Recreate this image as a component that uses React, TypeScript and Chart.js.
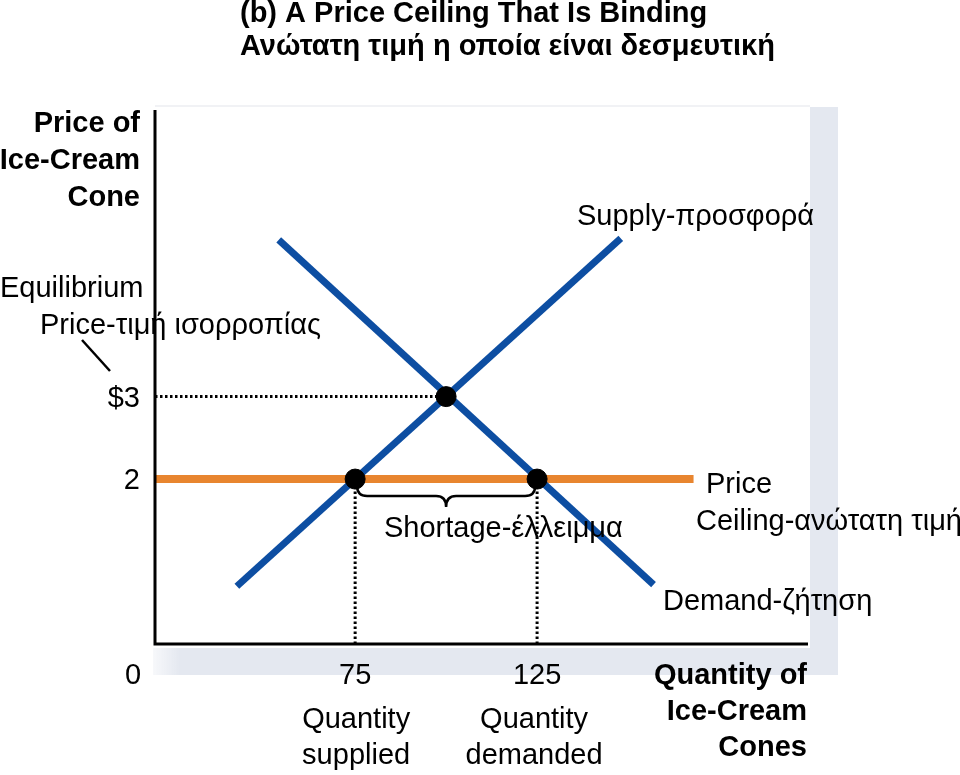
import React, { useEffect, useRef } from "react";
import { Chart, registerables } from "chart.js";

Chart.register(...registerables);

// ---- data ----
const supplyPoints = [
  { x: 42.5, y: 0.7 },
  { x: 148, y: 4.92 },
];
const demandPoints = [
  { x: 54, y: 4.9 },
  { x: 157, y: 0.72 },
];
const ceilingPrice = 2;
const ceilingRange = [20, 168];
const equilibrium = { x: 100, y: 3 };
const quantitySupplied = 75;
const quantityDemanded = 125;
const yTickValues = [3, 2];
const yTickLabels = ["$3", "2"];
const xTickValues = [75, 125];
const xTickLabels = ["75", "125"];
const xMin = 20;
const xMax = 200;
const yMin = 0;
const yMax = 6.5;

const titleLines = ["(b) A Price Ceiling That Is Binding", "Ανώτατη τιμή η οποία είναι δεσμευτική"];
const yAxisTitle = ["Price of", "Ice-Cream", "Cone"];
const xAxisTitle = ["Quantity of", "Ice-Cream", "Cones"];

const BLUE = "#0d4ea2";
const ORANGE = "#e8852f";
const FONT = '"Liberation Sans", Arial, sans-serif';

const overlayPlugin = {
  id: "overlay",
  beforeDraw(chart: any) {
    const { ctx, chartArea: a } = chart;
    ctx.save();
    // shadow box
    ctx.fillStyle = "#e4e8f0";
    ctx.fillRect(a.right, a.top - 1, 28, a.bottom - a.top + 32);
    const g = ctx.createLinearGradient(a.left - 2, 0, a.left + 25, 0);
    g.addColorStop(0, "rgba(228,232,240,0.3)");
    g.addColorStop(1, "rgba(228,232,240,1)");
    ctx.fillStyle = g;
    ctx.fillRect(a.left - 2, a.bottom + 4, a.right - a.left + 2, 27);
    ctx.fillStyle = "#f1f2f5";
    ctx.fillRect(a.left, a.top - 3, a.right - a.left, 2);
    ctx.restore();
  },
  afterDatasetsDraw(chart: any) {
    const { ctx, chartArea: a, scales } = chart;
    const xs = scales.x;
    const ys = scales.y;
    ctx.save();
    // axes
    ctx.strokeStyle = "#000";
    ctx.lineWidth = 3;
    ctx.beginPath();
    ctx.moveTo(a.left, a.top + 2);
    ctx.lineTo(a.left, a.bottom);
    ctx.lineTo(a.right - 2, a.bottom);
    ctx.stroke();

    // brace under shortage
    const bx1 = xs.getPixelForValue(quantitySupplied) + 2;
    const bx2 = xs.getPixelForValue(quantityDemanded) - 2;
    const bm = (bx1 + bx2) / 2;
    const by0 = ys.getPixelForValue(ceilingPrice) + 7;
    const by1 = by0 + 10;
    const by2 = by1 + 11;
    ctx.lineWidth = 2.5;
    ctx.beginPath();
    ctx.moveTo(bx1, by0);
    ctx.quadraticCurveTo(bx1, by1, bx1 + 10, by1);
    ctx.lineTo(bm - 10, by1);
    ctx.quadraticCurveTo(bm, by1, bm, by2);
    ctx.quadraticCurveTo(bm, by1, bm + 10, by1);
    ctx.lineTo(bx2 - 10, by1);
    ctx.quadraticCurveTo(bx2, by1, bx2, by0);
    ctx.stroke();

    // leader line for equilibrium price
    ctx.beginPath();
    ctx.moveTo(82, 340);
    ctx.lineTo(110, 371);
    ctx.stroke();

    ctx.fillStyle = "#000";
    ctx.textBaseline = "middle";
    // title
    ctx.font = `bold 29px ${FONT}`;
    ctx.textAlign = "left";
    ctx.fillText(titleLines[0], 240, 14);
    ctx.fillText(titleLines[1], 240, 47);
    // y axis title
    ctx.textAlign = "right";
    yAxisTitle.forEach((t, i) => ctx.fillText(t, 140, 124 + i * 37));
    // x axis title
    xAxisTitle.forEach((t, i) => ctx.fillText(t, 807, 676 + i * 36));

    ctx.font = `29px ${FONT}`;
    // y ticks
    ctx.textAlign = "right";
    yTickValues.forEach((v, i) => ctx.fillText(yTickLabels[i], 140, ys.getPixelForValue(v) + 2));
    // x ticks
    ctx.textAlign = "center";
    ctx.fillText("0", 133, 676);
    xTickValues.forEach((v, i) => ctx.fillText(xTickLabels[i], xs.getPixelForValue(v), 676));
    ctx.fillText("Quantity", xs.getPixelForValue(quantitySupplied) + 1, 720);
    ctx.fillText("supplied", xs.getPixelForValue(quantitySupplied) + 1, 756);
    ctx.fillText("Quantity", xs.getPixelForValue(quantityDemanded) - 3, 720);
    ctx.fillText("demanded", xs.getPixelForValue(quantityDemanded) - 3, 756);

    // annotations
    ctx.textAlign = "left";
    ctx.fillText("Equilibrium", 0, 289);
    ctx.fillText("Price-τιμή ισορροπίας", 40, 326);
    ctx.fillText("Supply-προσφορά", 577, 217);
    ctx.fillText("Price", 706, 485);
    ctx.fillText("Ceiling-ανώτατη τιμή", 696, 522);
    ctx.fillText("Demand-ζήτηση", 663, 602);
    ctx.fillText("Shortage-έλλειμμα", 384, 529);
    ctx.restore();
  },
};

export default function App() {
  const ref = useRef<HTMLCanvasElement | null>(null);
  useEffect(() => {
    document.body.style.margin = "0";
    const canvas = ref.current;
    if (!canvas) return;
    const dotted = {
      borderColor: "#000",
      borderWidth: 3,
      borderDash: [2.5, 2.5],
      pointRadius: 0,
      showLine: true,
      fill: false,
    };
    const chart = new Chart(canvas, {
      type: "scatter",
      data: {
        datasets: [
          {
            data: [
              { x: quantitySupplied, y: ceilingPrice },
              { x: quantityDemanded, y: ceilingPrice },
              equilibrium,
            ],
            backgroundColor: "#000",
            borderColor: "#000",
            pointRadius: 10,
            showLine: false,
          } as any,
          { data: supplyPoints, borderColor: BLUE, borderWidth: 7, pointRadius: 0, showLine: true } as any,
          { data: demandPoints, borderColor: BLUE, borderWidth: 7, pointRadius: 0, showLine: true } as any,
          {
            data: [
              { x: ceilingRange[0], y: ceilingPrice },
              { x: ceilingRange[1], y: ceilingPrice },
            ],
            borderColor: ORANGE,
            borderWidth: 8,
            pointRadius: 0,
            showLine: true,
          } as any,
          { ...dotted, data: [{ x: xMin, y: equilibrium.y }, equilibrium] } as any,
          { ...dotted, data: [{ x: quantitySupplied, y: yMin }, { x: quantitySupplied, y: ceilingPrice }] } as any,
          { ...dotted, data: [{ x: quantityDemanded, y: yMin }, { x: quantityDemanded, y: ceilingPrice }] } as any,
        ],
      },
      options: {
        responsive: false,
        animation: false,
        devicePixelRatio: 1,
        layout: { padding: { left: 155, right: 150, top: 108, bottom: 131 } },
        plugins: { legend: { display: false }, tooltip: { enabled: false } },
        scales: {
          x: {
            type: "linear",
            min: xMin,
            max: xMax,
            display: false,
          },
          y: {
            type: "linear",
            min: yMin,
            max: yMax,
            display: false,
          },
        },
      },
      plugins: [overlayPlugin],
    });
    return () => chart.destroy();
  }, []);
  return <canvas ref={ref} width={960} height={775} style={{ display: "block" }} />;
}
